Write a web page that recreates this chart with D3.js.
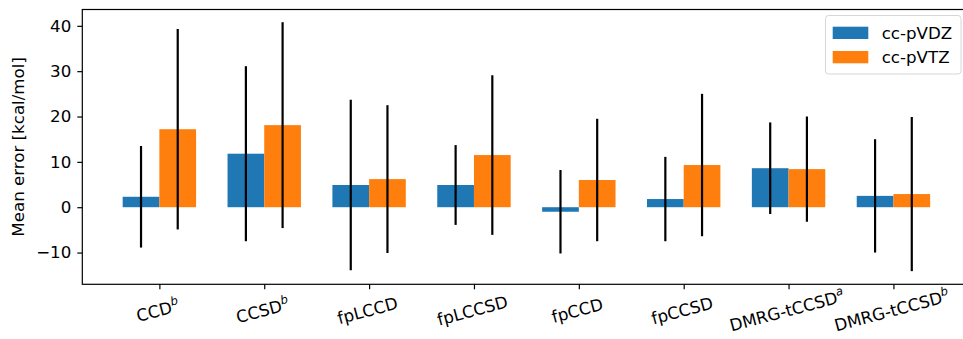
<!DOCTYPE html>
<html>
<head>
<meta charset="utf-8">
<script src="https://cdn.jsdelivr.net/npm/d3@7"></script>
<style>
  body { margin: 0; background: #fff; }
  svg { display: block; font-family: "DejaVu Sans", sans-serif; }
</style>
</head>
<body>
<svg id="chart" width="963" height="339"></svg>
<script>
// methods on x axis, the superscript is drawn italic and small
const methods = ['CCD', 'CCSD', 'fpLCCD', 'fpLCCSD', 'fpCCD', 'fpCCSD', 'DMRG-tCCSD', 'DMRG-tCCSD'];
const supers  = ['b', 'b', '', '', '', '', 'a', 'b'];

const seriesNames = ['cc-pVDZ', 'cc-pVTZ'];
const vdzMean = [2.3, 11.8, 4.9, 4.9, -1.0, 1.8, 8.6, 2.5];
const vdzErr  = [11.2, 19.3, 18.8, 8.8, 9.2, 9.3, 10.1, 12.5];
const vtzMean = [17.2, 18.1, 6.2, 11.5, 6.0, 9.3, 8.4, 2.9];
const vtzErr  = [22.1, 22.7, 16.3, 17.6, 13.5, 15.7, 11.6, 17.0];
const yTicks = [-10, 0, 10, 20, 30, 40];

const colors = ['#1f77b4', '#ff7f0e'];
const barW = 0.35;
const fs = '16.67px';

const svg = d3.select('#chart');
const mLeft = 82.3, mRight = 970.5, mTop = 9.5, mBottom = 284.3;

const x = d3.scaleLinear().domain([-0.735, 7.735]).range([mLeft, mRight]);
const y = d3.scaleLinear().domain([-17, 43.6]).range([mBottom, mTop]);

const series = [
  { name: seriesNames[0], mean: vdzMean, err: vdzErr, off: -barW / 2, color: colors[0] },
  { name: seriesNames[1], mean: vtzMean, err: vtzErr, off: barW / 2, color: colors[1] }
];

// bars
series.forEach(s => {
  svg.append('g').selectAll('rect')
    .data(s.mean)
    .join('rect')
    .attr('x', (d, i) => x(i + s.off - barW / 2))
    .attr('width', x(barW) - x(0))
    .attr('y', d => y(Math.max(0, d)))
    .attr('height', d => Math.abs(y(d) - y(0)))
    .attr('fill', s.color);
});

// error bars
series.forEach(s => {
  svg.append('g').selectAll('line')
    .data(s.mean)
    .join('line')
    .attr('x1', (d, i) => x(i + s.off))
    .attr('x2', (d, i) => x(i + s.off))
    .attr('y1', (d, i) => y(d - s.err[i]))
    .attr('y2', (d, i) => y(d + s.err[i]))
    .attr('stroke', '#000')
    .attr('stroke-width', 2.2);
});

// y axis
const yAxis = svg.append('g')
  .attr('transform', `translate(${mLeft},0)`)
  .call(d3.axisLeft(y).tickValues(yTicks).tickSize(5).tickPadding(6).tickFormat(d3.format('d')));
yAxis.select('.domain').remove();
yAxis.selectAll('line').attr('stroke', '#000').attr('stroke-width', 1.2);
yAxis.selectAll('text').attr('font-size', fs).attr('fill', '#000').attr('font-family', 'DejaVu Sans');

// x axis ticks
const xAxis = svg.append('g')
  .attr('transform', `translate(0,${mBottom})`)
  .call(d3.axisBottom(x).tickValues(d3.range(methods.length)).tickSize(5).tickFormat(''));
xAxis.select('.domain').remove();
xAxis.selectAll('line').attr('stroke', '#000').attr('stroke-width', 1.2);

// rotated tick labels with superscripts
const lbl = svg.append('g').selectAll('text')
  .data(methods)
  .join('text')
  .attr('transform', (d, i) => `translate(${x(i)},${mBottom + 32}) rotate(-15)`)
  .attr('text-anchor', 'middle')
  .attr('font-size', fs)
  .attr('fill', '#000');
lbl.append('tspan').text(d => d);
lbl.append('tspan')
  .text((d, i) => supers[i])
  .attr('font-size', '11.7px')
  .attr('font-style', 'italic')
  .attr('dy', -7);

// spines
svg.append('rect')
  .attr('x', mLeft).attr('y', mTop)
  .attr('width', mRight - mLeft).attr('height', mBottom - mTop)
  .attr('fill', 'none').attr('stroke', '#000').attr('stroke-width', 1.2);

// y label
svg.append('text')
  .attr('transform', `translate(24,${(mTop + mBottom) / 2}) rotate(-90)`)
  .attr('text-anchor', 'middle')
  .attr('font-size', fs)
  .text('Mean error [kcal/mol]');

// legend
const lg = svg.append('g');
lg.append('rect')
  .attr('x', 825.5).attr('y', 15.5).attr('width', 135.5).attr('height', 58.5)
  .attr('rx', 3).attr('fill', '#fff').attr('fill-opacity', 0.8)
  .attr('stroke', '#d6d6d6').attr('stroke-width', 1);
series.forEach((s, i) => {
  lg.append('rect')
    .attr('x', 832.7).attr('y', 26.7 + i * 24.3)
    .attr('width', 35.6).attr('height', 12.3)
    .attr('fill', s.color);
  lg.append('text')
    .attr('x', 881.7).attr('y', 39 + i * 24.3)
    .attr('font-size', fs)
    .text(s.name);
});
</script>
</body>
</html>
